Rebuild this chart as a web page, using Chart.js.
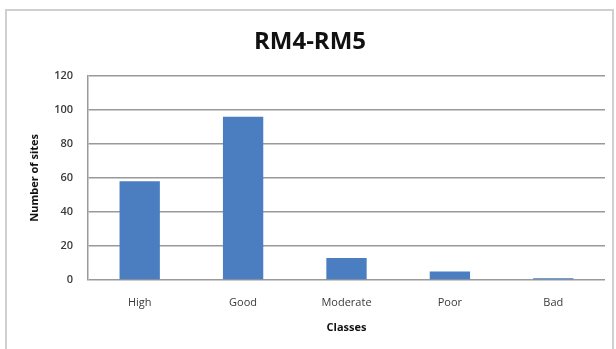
<!DOCTYPE html>
<html>
<head>
<meta charset="utf-8">
<script src="https://cdn.jsdelivr.net/npm/chart.js@4/dist/chart.umd.min.js"></script>
<style>
    html, body { margin: 0; padding: 0; background: #fff; }
    #frame {
        position: absolute; left: 5px; top: 9px; width: 609px; height: 345px;
        border: 2px solid #d0d0d0; box-sizing: border-box;
    }
    #wrap { position: absolute; left: 0; top: 0; width: 616px; height: 349px; }
</style>
</head>
<body>
<div id="frame"></div>
<div id="wrap"><canvas id="sitesChart"></canvas></div>
<script>
    /* --- Data --- */
    const classes = ['High', 'Good', 'Moderate', 'Poor', 'Bad'];
    const sites = [58, 96, 13, 5, 1];
    const yMin = 0;
    const yMax = 120;
    const yStep = 20;

    const fontFamily = "'Open Sans', 'DejaVu Sans', sans-serif";

    const ctx = document.getElementById('sitesChart').getContext('2d');

    new Chart(ctx, {
        type: 'bar',
        data: {
            labels: classes,
            datasets: [{
                label: 'Number of sites',
                data: sites,
                backgroundColor: '#4a7ec0',
                borderWidth: 0,
                categoryPercentage: 1,
                barPercentage: 0.39
            }]
        },
        options: {
            responsive: true,
            maintainAspectRatio: false,
            animation: false,
            layout: {
                padding: { left: 15, right: 11, top: 0, bottom: 0 }
            },
            plugins: {
                legend: { display: false },
                tooltip: { enabled: false },
                title: {
                    display: true,
                    text: 'RM4-RM5',
                    color: '#111',
                    font: { family: fontFamily, size: 24, weight: 'bold', lineHeight: 1.2 },
                    padding: { top: 28, bottom: 19 }
                }
            },
            scales: {
                x: {
                    grid: { display: false, drawTicks: false },
                    border: { display: false },
                    ticks: {
                        color: '#3a3a3a',
                        font: { family: fontFamily, size: 11 },
                        padding: 16,
                        maxRotation: 0
                    },
                    title: {
                        display: true,
                        text: 'Classes',
                        color: '#111',
                        font: { family: fontFamily, size: 11, weight: 'bold' },
                        padding: { top: 0, bottom: 15 }
                    },
                    afterFit: (scale) => { scale.height = 69; }
                },
                y: {
                    min: yMin,
                    max: yMax,
                    ticks: {
                        stepSize: yStep,
                        color: '#3a3a3a',
                        font: { family: fontFamily, size: 11, weight: '600' },
                        padding: 15
                    },
                    grid: { color: '#999999', lineWidth: 1.5, drawTicks: false },
                    border: { display: true, color: '#999999', width: 1.5 },
                    title: {
                        display: true,
                        text: 'Number of sites',
                        color: '#111',
                        font: { family: fontFamily, size: 11, weight: 'bold' },
                        padding: { top: 13, bottom: 0 }
                    },
                    afterFit: (scale) => { scale.width = 73; }
                }
            }
        }
    });
</script>
</body>
</html>
